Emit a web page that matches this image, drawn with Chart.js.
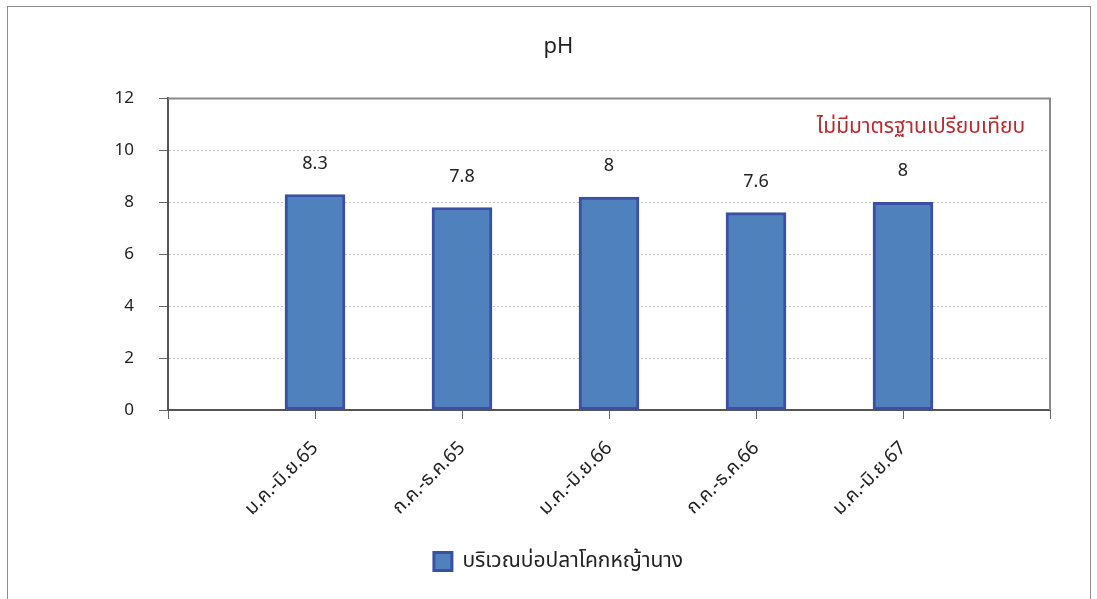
<!DOCTYPE html>
<html>
<head>
<meta charset="utf-8">
<script src="https://cdn.jsdelivr.net/npm/chart.js@4.4.1/dist/chart.umd.min.js"></script>
<style>
  body { margin: 0; background: #fff; }
  #frame { position: absolute; left: 7px; top: 6px; width: 1082px; height: 700px; border: 1px solid #8c8c8c; }
  #c { position: absolute; left: 0; top: 0; }
</style>
</head>
<body>
<div id="frame"></div>
<canvas id="c" width="1097" height="599"></canvas>
<script>
const periods = ["ม.ค.-มิ.ย.65", "ก.ค.-ธ.ค.65", "ม.ค.-มิ.ย.66", "ก.ค.-ธ.ค.66", "ม.ค.-มิ.ย.67"];
const phValues = [8.3, 7.8, 8.2, 7.6, 8];
const phLabels = ["8.3", "7.8", "8", "7.6", "8"];
const yTicks = [0, 2, 4, 6, 8, 10, 12];
const seriesName = "บริเวณบ่อปลาโคกหญ้านาง";
const noteText = "ไม่มีมาตรฐานเปรียบเทียบ";

const FONT = "'Noto Sans', 'Noto Sans Thai', 'Tahoma', sans-serif";

// empty slot at each end so the bars sit on the ticks like the original
const xLabels = [""].concat(periods, [""]);
const xValues = [null].concat(phValues, [null]);
const xText = [""].concat(phLabels, [""]);

const extras = {
  id: "extras",
  afterDatasetsDraw(chart) {
    const ctx = chart.ctx;
    const area = chart.chartArea;
    // plot frame top + right
    ctx.save();
    ctx.strokeStyle = "#8a8a8a";
    ctx.lineWidth = 2;
    ctx.beginPath();
    ctx.moveTo(area.left, area.top);
    ctx.lineTo(area.right, area.top);
    ctx.lineTo(area.right, area.bottom);
    ctx.stroke();

    // value labels
    const meta = chart.getDatasetMeta(0);
    ctx.fillStyle = "#222";
    ctx.font = "18px " + FONT;
    ctx.textAlign = "center";
    ctx.textBaseline = "middle";
    meta.data.forEach((bar, i) => {
      if (xValues[i] == null) return;
      ctx.fillText(xText[i], bar.x, bar.y - 31);
    });

    // note
    ctx.fillStyle = "#c0272d";
    ctx.font = "21px " + FONT;
    ctx.fillText(noteText, area.right - 129, area.top + 29);
    ctx.restore();
  }
};

new Chart(document.getElementById("c"), {
  type: "bar",
  data: {
    labels: xLabels,
    datasets: [{
      label: seriesName,
      data: xValues,
      backgroundColor: "#4f81bd",
      borderColor: "#3a50a5",
      borderWidth: 3,
      borderSkipped: false,
      barThickness: 60
    }]
  },
  options: {
    responsive: false,
    animation: false,
    layout: { padding: { left: 20, right: 0, top: 0, bottom: 17 } },
    plugins: {
      title: {
        display: true,
        text: "pH",
        color: "#222",
        font: { family: FONT, size: 22, weight: "normal" },
        padding: { top: 34, bottom: 38 }
      },
      legend: {
        position: "bottom",
        labels: {
          color: "#222",
          font: { family: FONT, size: 21 },
          boxWidth: 18,
          boxHeight: 18,
          padding: 10
        }
      },
      tooltip: { enabled: false }
    },
    scales: {
      x: {
        offset: false,
        afterFit(scale) { scale.height = 131; },
        grid: { offset: false, drawOnChartArea: false, tickLength: 9, tickColor: "#666", tickWidth: 1 },
        border: { color: "#555", width: 2 },
        ticks: {
          color: "#222",
          font: { family: FONT, size: 19 },
          maxRotation: 45,
          minRotation: 45,
          autoSkip: false,
          padding: 18
        }
      },
      y: {
        min: 0,
        max: 12,
        afterFit(scale) { scale.width = 148; },
        afterBuildTicks(scale) { scale.ticks = yTicks.map(v => ({ value: v })); },
        grid: { color: "#c4c4c4", lineWidth: 1, tickLength: 9, tickColor: "#666", tickBorderDash: [] },
        border: { color: "#555", width: 2, dash: [2, 2] },
        ticks: {
          color: "#222",
          font: { family: FONT, size: 17 },
          padding: 25
        }
      },
      // spacer on the right so the plot stops where the original does
      yRight: {
        position: "right",
        min: 0,
        max: 12,
        afterFit(scale) { scale.width = 47; },
        grid: { display: false },
        border: { display: false },
        ticks: { display: false }
      }
    }
  },
  plugins: [extras]
});
</script>
</body>
</html>
